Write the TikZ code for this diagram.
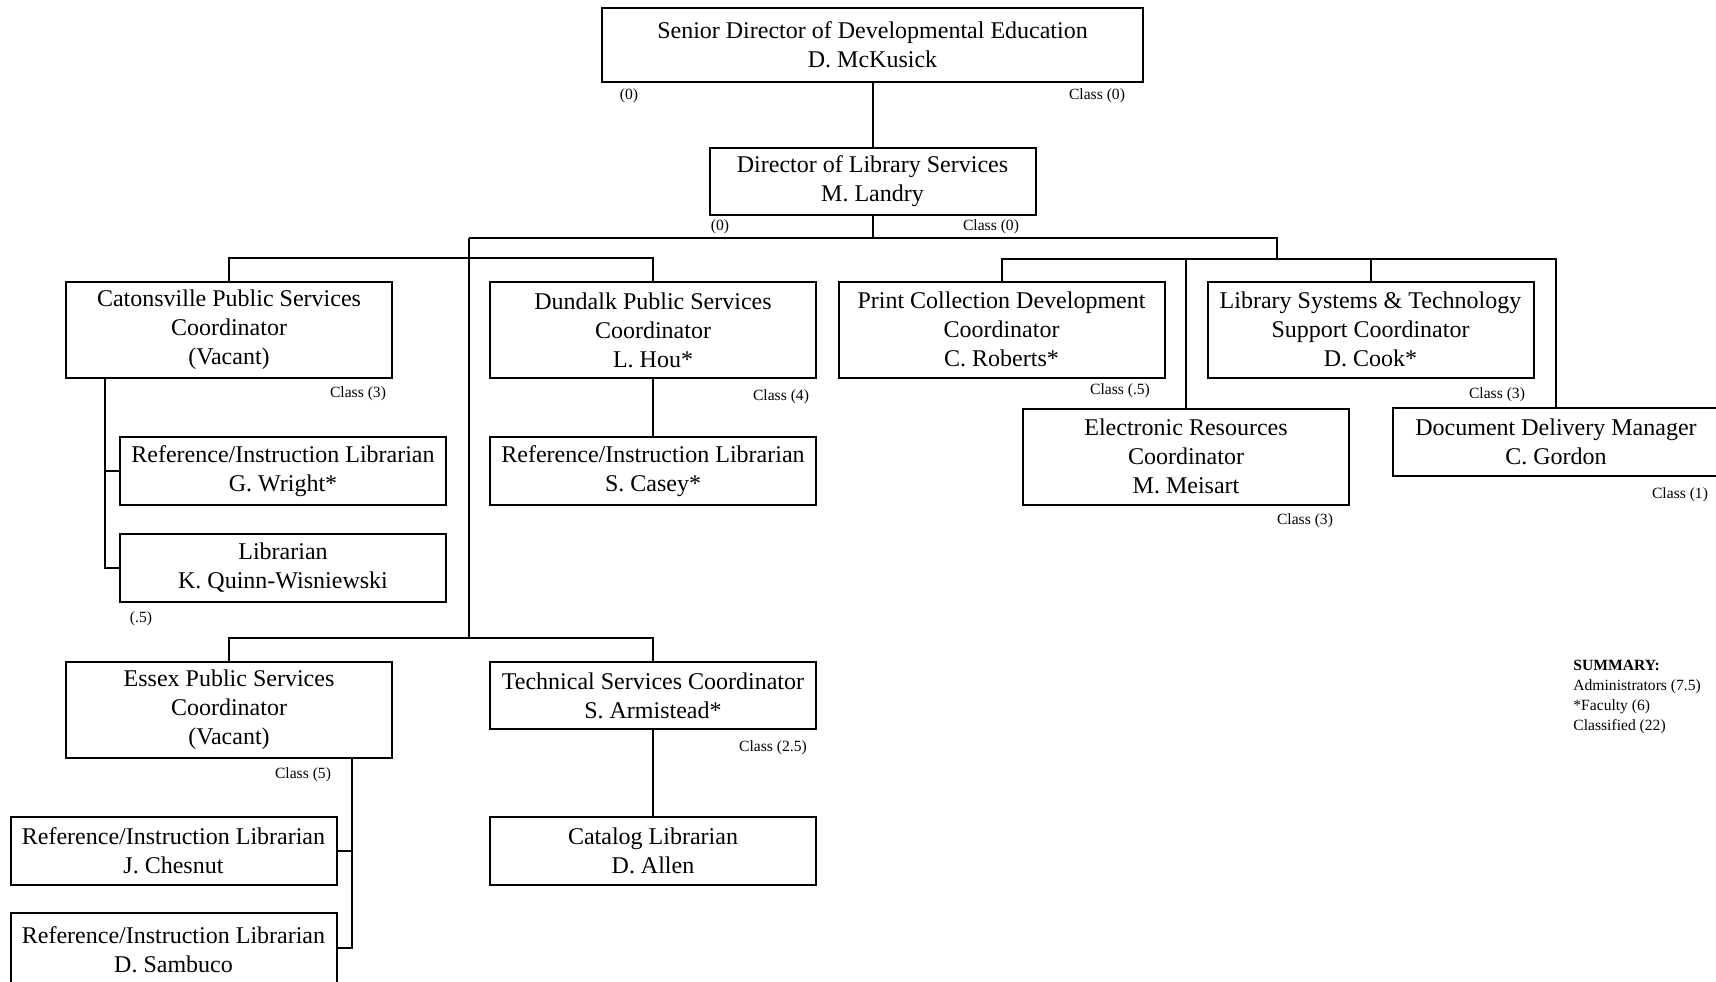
\documentclass[tikz,border=0pt]{standalone}
\usepackage{fontspec}
\setmainfont{Liberation Serif}
\usetikzlibrary{positioning}

\begin{document}
\begin{tikzpicture}[x=0.5pt,y=-0.5pt,wire/.style={line width=1pt},
  post/.style={draw,line width=1pt,minimum width=163pt,minimum height=34pt,inner sep=0pt,align=center,font=\fontsize{12}{14.5}\selectfont},
  tall/.style={post,minimum height=48pt},
  note/.style={inner sep=0pt,font=\fontsize{7.8}{9}\selectfont}]
  \useasboundingbox (0,0) rectangle (1716,981);
  % top of the chart
  \node[post,minimum width=270.5pt,minimum height=37pt] (senior) at (872.5,45) {Senior Director of Developmental Education\\D. McKusick};
  \node[post,minimum height=33.5pt] (landry) at (872.5,181.5) {Director of Library Services\\M. Landry};
  \node[note] (s0) at (629,96) {(0)};
  \node[note] (s1) at (1097,96) {Class (0)};
  \node[note] (l0) at (720,227) {(0)};
  \node[note] (l1) at (991,227) {Class (0)};
  \coordinate (hubL) at (469,238);
  \coordinate (hubR) at (1277,238);
  \coordinate (lowbar) at (469,639);
  \coordinate (rbar) at (1277,259);
  % left side
  \node[tall] (caton) at (229,330) {Catonsville Public Services\\Coordinator\\(Vacant)};
  \node[post] (wright) at (283,471) {Reference/Instruction Librarian\\G. Wright*};
  \node[post] (quinn) at (283,568) {Librarian\\K. Quinn-Wisniewski};
  \node[tall] (essex) at (229,710) {Essex Public Services\\Coordinator\\(Vacant)};
  \node[post] (chesnut) at (173.5,851) {Reference/Instruction Librarian\\J. Chesnut};
  \node[post,minimum height=37pt] (sambuco) at (173.5,950) {Reference/Instruction Librarian\\D. Sambuco};
  \node[tall] (dundalk) at (653,330) {Dundalk Public Services\\Coordinator\\L. Hou*};
  \node[post] (casey) at (653,471) {Reference/Instruction Librarian\\S. Casey*};
  \node[post,minimum height=33.5pt] (tech) at (653,695.5) {Technical Services Coordinator\\S. Armistead*};
  \node[post] (catalog) at (653,851) {Catalog Librarian\\D. Allen};
  \node[note] (c3) at (358,394) {Class (3)};
  \node[note] (q5) at (141,619) {(.5)};
  \node[note] (c5) at (303,775) {Class (5)};
  \node[note] (c4) at (781,397) {Class (4)};
  \node[note] (c25) at (773,748) {Class (2.5)};
  % right side
  \node[tall] (print) at (1001.5,329.5) {Print Collection Development\\Coordinator\\C. Roberts*};
  \node[tall] (libsys) at (1370.5,329.5) {Library Systems \& Technology\\Support Coordinator\\D. Cook*};
  \node[tall] (eres) at (1186,456.5) {Electronic Resources\\Coordinator\\M. Meisart};
  \node[post] (docdel) at (1556,442) {Document Delivery Manager\\C. Gordon};
  \node[note] (p5) at (1120,391) {Class (.5)};
  \node[note] (ls3) at (1497,395) {Class (3)};
  \node[note] (e3) at (1305,521) {Class (3)};
  \node[note] (d1) at (1680,495) {Class (1)};
  \node[note,anchor=north west,align=left,font=\fontsize{7.8}{10}\selectfont] (summary) at (1573,660) {\textbf{SUMMARY:}\\Administrators (7.5)\\*Faculty (6)\\Classified (22)};
  % lines
  \draw[wire] (senior.south) -- (landry.north);
  \draw[wire] (landry.south) -- (landry.south |- hubL);
  \draw[wire] (hubL) -- (hubR) -- (rbar);
  \draw[wire] (hubL) -- (lowbar);
  \draw[wire] (caton.north) -- ++(0,-23) -| (dundalk.north);
  \draw[wire] (essex.north) -- ++(0,-23) -| (tech.north);
  \draw[wire] ([xshift=20pt]caton.south west) |- (quinn.west);
  \draw[wire] (wright.west) -- ++(-14,0);
  \draw[wire] ([xshift=-20.5pt]essex.south east) -- ([xshift=-20.5pt]essex.south east |- 0,948) -- ++(-15,0);
  \draw[wire] (chesnut.east) -- ++(15,0);
  \draw[wire] (dundalk.south) -- (casey.north);
  \draw[wire] (tech.south) -- (catalog.north);
  \draw[wire] (print.north) -- (print.north |- rbar) -| (docdel.north);
  \draw[wire] (libsys.north) -- (libsys.north |- rbar);
  \draw[wire] (eres.north) -- (eres.north |- rbar);
\end{tikzpicture}
\end{document}
